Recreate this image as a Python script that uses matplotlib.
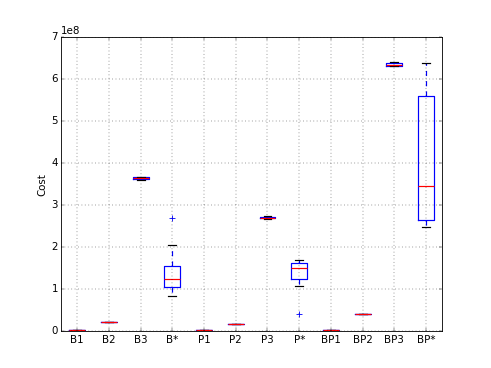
import numpy as np
import matplotlib
matplotlib.use('Agg')
import matplotlib.pyplot as plt

plt.style.use('classic')

# box statistics (units of cost)
labels = ['B1', 'B2', 'B3', 'B*', 'P1', 'P2', 'P3', 'P*', 'BP1', 'BP2', 'BP3', 'BP*']
whislo = np.array([0.02, 0.21, 3.60, 0.83, 0.02, 0.18, 2.66, 1.08, 0.02, 0.40, 6.29, 2.47]) * 1e8
q1 = np.array([0.02, 0.21, 3.62, 1.05, 0.02, 0.18, 2.68, 1.25, 0.02, 0.40, 6.31, 2.63]) * 1e8
med = np.array([0.02, 0.21, 3.64, 1.24, 0.02, 0.18, 2.70, 1.49, 0.02, 0.40, 6.33, 3.46]) * 1e8
q3 = np.array([0.02, 0.21, 3.66, 1.56, 0.02, 0.18, 2.72, 1.61, 0.02, 0.40, 6.37, 5.59]) * 1e8
whishi = np.array([0.02, 0.21, 3.67, 2.04, 0.02, 0.18, 2.74, 1.70, 0.02, 0.40, 6.39, 6.38]) * 1e8
fliers = [[], [], [], [2.70e8], [], [], [], [0.40e8], [], [], [], []]

stats = []
for i, lab in enumerate(labels):
    stats.append({'label': lab, 'whislo': whislo[i], 'q1': q1[i], 'med': med[i],
                  'q3': q3[i], 'whishi': whishi[i], 'fliers': fliers[i]})

fig = plt.figure(figsize=(8, 6), dpi=61.375)
ax = fig.add_subplot(111)
ax.bxp(stats, widths=0.5,
       boxprops=dict(color='blue', linewidth=1.4),
       whiskerprops=dict(color='blue', linestyle='--', linewidth=1.4),
       capprops=dict(color='black', linewidth=1.4),
       medianprops=dict(color='red', linewidth=1.4),
       flierprops=dict(marker='+', markeredgecolor='blue', markerfacecolor='none',
                       markersize=6, linestyle='none'))

ax.set_xlim(0.5, 12.5)
ax.set_ylim(0, 7e8)
ax.set_ylabel('Cost')
ax.grid(True)

plt.savefig('out.png', dpi=61.375)
